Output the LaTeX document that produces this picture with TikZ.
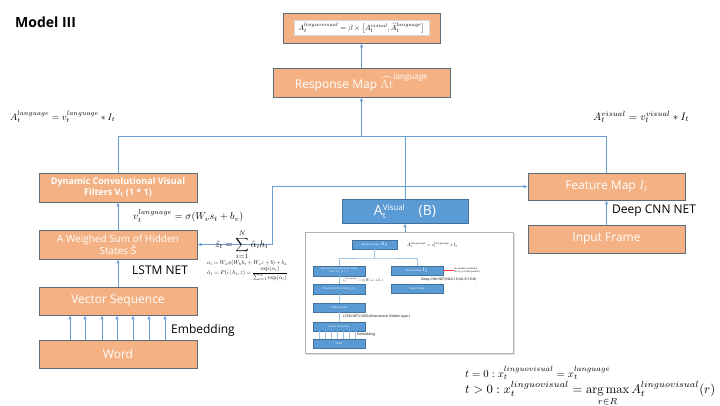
\documentclass[tikz,border=0pt]{standalone}
\usepackage{amsmath}
\usepackage{amssymb}
\usepackage{fontspec}
\setsansfont{Open Sans}
\usepackage{tikz}
\usetikzlibrary{arrows.meta}

\definecolor{boxorange}{HTML}{F4B183}
\definecolor{boxedge}{HTML}{5E6C7A}
\definecolor{lineblue}{HTML}{6A9FD6}
\definecolor{boxblue}{HTML}{5B9BD5}
\definecolor{blueedge}{HTML}{41719C}

\tikzset{
  obox/.style={draw=boxedge, fill=boxorange, line width=0.7pt, inner sep=0pt,
    text=white, align=center, font=\sffamily\fontsize{12}{14}\selectfont},
  bbox/.style={draw=blueedge, fill=boxblue, line width=0.6pt, inner sep=0pt,
    text=white, align=center},
  mbox/.style={bbox, line width=0.2pt, minimum width=52, minimum height=9,
    font=\sffamily\fontsize{2.6}{3}\selectfont},
  conn/.style={draw=lineblue, line width=0.8pt},
  arr/.style={conn, -{Latex[length=4pt,width=3.5pt]}},
  mconn/.style={draw=boxblue!60, line width=0.3pt},
  lbl/.style={anchor=west, inner sep=0pt, font=\sffamily\fontsize{12}{14}\selectfont},
  eq/.style={anchor=west, inner sep=0pt},
  tiny/.style={anchor=west, inner sep=0pt, font=\sffamily\fontsize{3.4}{4}\selectfont},
}

\begin{document}
\begin{tikzpicture}[x=1pt, y=-1pt]
    \useasboundingbox[fill=white] (0,0) rectangle (720,405);

    \node[anchor=west, inner sep=0pt, font=\sffamily\bfseries\fontsize{14}{16}\selectfont] (title) at (15,22) {Model III};

    \node[obox, minimum width=157, minimum height=30] (link) at (361.5,28) {};
    \node[fill=white, draw=gray!30, line width=0.3pt, minimum width=135, minimum height=15, inner sep=0pt] (linkeq) at (link.center)
        {\resizebox{126pt}{!}{$A_t^{linguovisual}=\beta\times\bigl[A_t^{visual},\widehat{A}_t^{language}\bigr]$}};
    \node[obox, minimum width=177, minimum height=29] (resp) at (361.5,82.5)
        {Response Map $\widehat{\mathrm{At}}^{\text{\sffamily\fontsize{8}{9}\selectfont language}}$};

    \node[obox, minimum width=158, minimum height=29, font=\sffamily\bfseries\fontsize{9}{10.5}\selectfont] (dyn) at (118,187.5)
        {Dynamic Convolutional Visual\\Filters V\textsubscript{t} (1 * 1)};
    \node[obox, minimum width=158, minimum height=29, font=\sffamily\fontsize{10}{12}\selectfont] (weigh) at (118,244.5)
        {A Weighed Sum of Hidden\\States \^{S}};
    \node[obox, minimum width=158, minimum height=28] (vec) at (118,301) {Vector Sequence};
    \node[obox, minimum width=158, minimum height=28] (word) at (118,354) {Word};

    \node[obox, minimum width=157, minimum height=27] (feat) at (606.5,186.5) {Feature Map $I_t$};
    \node[obox, minimum width=157, minimum height=28] (inp) at (606.5,239) {Input Frame};

    \node[bbox, minimum width=126, minimum height=24, font=\sffamily\fontsize{14}{16}\selectfont] (vis) at (405,211)
        {A\rlap{\raisebox{-3pt}{\fontsize{8}{9}\selectfont t}}\raisebox{5pt}{\fontsize{8}{9}\selectfont Visual}\quad(B)};

    \fill[gray!25] (307,234) rectangle (515,355);
    \node[draw=gray!60, fill=white, line width=0.4pt, minimum width=208, minimum height=121, inner sep=0pt] (shot) at (409,292.5) {};

    \node[mbox, minimum width=45] (mresp) at (374.5,244.5) {Response Map $A_t$};
    \node[mbox, minimum height=10] (mdyn) at (339,271) {Dynamic Convolutional Visual\\Filters V\textsubscript{t} (1 * 1)};
    \node[mbox] (mfeat) at (417,270.5) {Feature Map $I_t$};
    \node[mbox] (minp) at (417,288.5) {Input Frame};
    \node[mbox, minimum height=10] (mchoose) at (339,289) {Choose the final step h\textsubscript{N}(s)};
    \node[mbox] (mhid) at (339,307.5) {Hidden States};
    \node[mbox] (mvec) at (339,326.5) {Vector Sequence};
    \node[mbox] (mword) at (339,343.5) {Word};
    \coordinate (mj) at (374.5,258);
    \draw[mconn] (mresp) -- (mj);
    \draw[mconn] (mdyn.north) |- (mj) -| (mfeat.north);
    \draw[mconn] (mdyn) -- (mchoose);
    \draw[mconn] (mchoose) -- (mhid);
    \draw[mconn] (mhid) -- (mvec);
    \foreach \dx in {-20,-14,-8,-2,4,10,16}
        \draw[mconn] ([xshift=\dx pt]mword.north) -- ([xshift=\dx pt]mvec.south);
    \node[eq] (meqa) at (407,245) {\resizebox{50pt}{!}{$A_t^{language}=v_t^{language}*I_t$}};
    \node[eq] (meqv) at (343,280) {\resizebox{40pt}{!}{$v_t^{language}=\sigma(W_v s_t+b_v)$}};
    \node[anchor=west, inner sep=0pt, align=left, font=\sffamily\fontsize{2.2}{2.6}\selectfont] (mnote) at (454,270.5)
        {the spatial coordinates\\the (x, y) of each position};
    \draw[draw=red!80, line width=0.3pt, -{Latex[length=1.5pt,width=1.2pt]}] (mnote.west) -- (mfeat.east);
    \node[tiny] (mcnn) at (421,280) {Deep CNN NET(VGG-16,fc6-fc7-fc8)};
    \node[tiny] (mlstm) at (343,317) {LSTM NET(1000 dimensional hidden layer)};
    \node[tiny] (memb) at (357,335) {Embedding};

    \coordinate (jl) at (118,136.5);
    \coordinate (jr) at (606.5,136.5);
    \coordinate (jm) at (361.5,136.5);
    \coordinate (jb) at (405,136.5);
    \draw[conn] (dyn.north) -- (jl) -- (jr) -- (feat.north);
    \draw[arr] (jm) -- (resp.south);
    \draw[arr] (resp) -- (link);
    \draw[conn] (vis.north) -- (jb);
    \draw[arr] (vis.south |- shot.north) -- (vis.south);

    \draw[arr] (weigh) -- (dyn);
    \draw[arr] (vec) -- (weigh);
    \foreach \dx in {-48,-33,-16,-1,15,31,47}
        \draw[arr] ([xshift=\dx pt]word.north) -- ([xshift=\dx pt]vec.south);
    \draw[arr] (inp) -- (feat);

    \coordinate (kb) at (272,244.5);
    \coordinate (kt) at (272,186.5);
    \draw[conn, {Latex[length=4pt,width=3.5pt]}-{Latex[length=4pt,width=3.5pt]}] (weigh.east) -- (kb) -- (kt) -- (feat.west);

    \node[lbl] (lstm) at (132,270) {LSTM NET};
    \node[lbl] (emb) at (171,330) {Embedding};
    \node[lbl] (cnn) at (612,211) {Deep CNN NET};

    \node[eq] (eqlang) at (10,117) {\resizebox{105pt}{!}{$A_t^{language}=v_t^{language}*I_t$}};
    \node[eq] (eqvis) at (593,117) {\resizebox{96pt}{!}{$A_t^{visual}=v_t^{visual}*I_t$}};
    \node[eq] (eqv) at (133,216) {\resizebox{110pt}{!}{$v_t^{language}=\sigma(W_v s_t+b_v)$}};
    \node[eq] (eqz) at (215,245) {\resizebox{53pt}{!}{$\tilde{z}_t=\displaystyle\sum_{i=1}^{N}\tilde{\alpha}_i h_i$}};
    \node[eq] (eqa) at (207,263) {\resizebox{80pt}{!}{$\alpha_i=W_\alpha\phi(W_h h_t+W_z z+b)+b_\alpha$}};
    \node[eq] (eqat) at (207,273.5) {\resizebox{80pt}{!}{$\tilde{\alpha}_i=P(i\,|\,h_t,z)=\dfrac{\exp(\alpha_i)}{\sum_{i=1}^{N}\exp(\alpha_i)}$}};

    \node[eq, anchor=base west] (eqt0) at (465,377) {\resizebox{145pt}{!}{$t=0:x_t^{linguovisual}=x_t^{language}$}};
    \node[eq, anchor=north west] (eqt1) at (465,381) {\resizebox{250pt}{!}{$t>0:x_t^{linguovisual}=\mathop{\arg\max}\limits_{r\in R}A_t^{linguovisual}(r)$}};
\end{tikzpicture}
\end{document}
